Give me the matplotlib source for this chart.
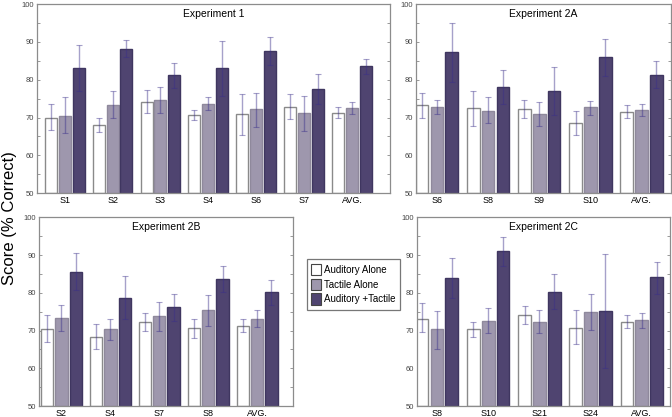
import numpy as np
import matplotlib
matplotlib.use('Agg')
import matplotlib.pyplot as plt
from matplotlib.patches import Patch

plt.rcParams['font.family'] = ['Liberation Sans', 'DejaVu Sans']

conditions = ['Auditory Alone', 'Tactile Alone', 'Auditory +Tactile']

# Experiment 1
exp1_labels = ['S1', 'S2', 'S3', 'S4', 'S6', 'S7', 'AVG.']
exp1_aud = [70.0, 67.9, 74.1, 70.7, 70.8, 72.9, 71.3]
exp1_aud_lo = [66.8, 66.1, 71.1, 69.4, 65.4, 69.5, 70.0]
exp1_aud_hi = [73.5, 69.8, 77.4, 72.0, 76.1, 76.1, 72.8]
exp1_tac = [70.3, 73.4, 74.6, 73.7, 72.2, 71.1, 72.4]
exp1_tac_lo = [65.8, 69.8, 71.1, 72.0, 67.6, 66.3, 70.9]
exp1_tac_hi = [75.5, 77.1, 78.1, 75.5, 76.6, 75.8, 74.0]
exp1_both = [83.1, 88.2, 81.2, 83.0, 87.6, 77.5, 83.6]
exp1_both_lo = [77.1, 85.9, 77.9, 75.6, 83.9, 73.6, 81.5]
exp1_both_hi = [89.2, 90.5, 84.3, 90.3, 91.3, 81.6, 85.4]

# Experiment 2A
exp2a_labels = ['S6', 'S8', 'S9', 'S10', 'AVG.']
exp2a_aud = [73.2, 72.4, 72.2, 68.6, 71.4]
exp2a_aud_lo = [69.9, 67.8, 69.9, 65.5, 69.9]
exp2a_aud_hi = [76.5, 77.1, 74.6, 71.6, 73.2]
exp2a_tac = [72.9, 71.6, 70.9, 72.7, 72.0]
exp2a_tac_lo = [71.0, 68.5, 67.7, 70.7, 70.5]
exp2a_tac_hi = [74.6, 75.3, 74.1, 74.3, 73.5]
exp2a_both = [87.4, 78.0, 77.1, 86.0, 81.3]
exp2a_both_lo = [79.3, 73.5, 70.7, 81.1, 77.7]
exp2a_both_hi = [95.1, 82.7, 83.5, 90.8, 85.0]

# Experiment 2B
exp2b_labels = ['S2', 'S4', 'S7', 'S8', 'AVG.']
exp2b_aud = [70.3, 68.4, 72.4, 70.6, 71.3]
exp2b_aud_lo = [67.0, 65.2, 69.8, 68.1, 69.5]
exp2b_aud_hi = [74.0, 71.7, 74.6, 73.1, 73.1]
exp2b_tac = [73.3, 70.3, 73.8, 75.4, 73.2]
exp2b_tac_lo = [70.0, 67.4, 70.0, 71.3, 71.0]
exp2b_tac_hi = [76.8, 73.2, 77.7, 79.3, 75.4]
exp2b_both = [85.6, 78.7, 76.2, 83.6, 80.2]
exp2b_both_lo = [80.7, 73.0, 72.6, 80.3, 76.8]
exp2b_both_hi = [90.6, 84.5, 79.8, 87.2, 83.5]

# Experiment 2C
exp2c_labels = ['S8', 'S10', 'S21', 'S24', 'AVG.']
exp2c_aud = [73.2, 70.3, 74.0, 70.8, 72.2]
exp2c_aud_lo = [69.5, 68.2, 71.8, 66.4, 70.8]
exp2c_aud_hi = [77.2, 72.4, 76.5, 75.4, 74.0]
exp2c_tac = [70.3, 72.5, 72.4, 74.9, 72.8]
exp2c_tac_lo = [65.0, 69.3, 69.3, 70.1, 70.8]
exp2c_tac_hi = [75.3, 75.9, 75.4, 79.7, 74.6]
exp2c_both = [84.0, 91.0, 80.3, 75.2, 84.1]
exp2c_both_lo = [78.6, 87.2, 75.6, 60.0, 79.7]
exp2c_both_hi = [89.3, 94.9, 85.1, 90.3, 88.2]

face_colors = ['white', '#9e97ad', '#4f4470']
edge_colors = ['#8a8a8a', '#8f899c', '#3f3660']
err_color = '#3a2f8a'


def draw_panel(ax, title, labels, series, xlim):
    x = np.arange(len(labels))
    width = 0.25
    offs = [-0.29, 0.0, 0.29]
    for k, (vals, lo, hi) in enumerate(series):
        vals = np.array(vals)
        yerr = [vals - np.array(lo), np.array(hi) - vals]
        ax.bar(x + offs[k], vals - 50, width, bottom=50, color=face_colors[k],
               edgecolor=edge_colors[k], linewidth=1.0, zorder=2)
        ax.errorbar(x + offs[k], vals, yerr=yerr, fmt='none', ecolor=err_color,
                    alpha=0.45, elinewidth=1.0, capsize=2, capthick=0.8, zorder=3)
    ax.set_ylim(50, 100)
    ax.set_xlim(*xlim)
    ax.set_xticks(x)
    ax.set_xticklabels(labels, fontsize=6.5)
    ax.set_yticks(np.arange(50, 101, 10))
    ax.set_yticks(np.arange(55, 100, 10), minor=True)
    ax.tick_params(axis='y', which='both', direction='in', right=True,
                   length=2, width=0.6, color='#888888', labelsize=5.5,
                   labelcolor='#444444', pad=2)
    ax.tick_params(axis='x', length=0, pad=2)
    for sp in ax.spines.values():
        sp.set_color('#8c8c8c')
        sp.set_linewidth(0.9)
    ax.text(0.5, 0.975, title, transform=ax.transAxes, ha='center', va='top',
            fontsize=7.5)


fig = plt.figure(figsize=(6.72, 4.17), dpi=100)

ax1 = fig.add_axes([0.055, 0.537, 0.525, 0.453])
draw_panel(ax1, 'Experiment 1', exp1_labels,
           [(exp1_aud, exp1_aud_lo, exp1_aud_hi),
            (exp1_tac, exp1_tac_lo, exp1_tac_hi),
            (exp1_both, exp1_both_lo, exp1_both_hi)], (-0.58, 6.79))

ax2 = fig.add_axes([0.619, 0.537, 0.379, 0.453])
draw_panel(ax2, 'Experiment 2A', exp2a_labels,
           [(exp2a_aud, exp2a_aud_lo, exp2a_aud_hi),
            (exp2a_tac, exp2a_tac_lo, exp2a_tac_hi),
            (exp2a_both, exp2a_both_lo, exp2a_both_hi)], (-0.41, 4.57))

ax3 = fig.add_axes([0.058, 0.026, 0.378, 0.453])
draw_panel(ax3, 'Experiment 2B', exp2b_labels,
           [(exp2b_aud, exp2b_aud_lo, exp2b_aud_hi),
            (exp2b_tac, exp2b_tac_lo, exp2b_tac_hi),
            (exp2b_both, exp2b_both_lo, exp2b_both_hi)], (-0.46, 4.73))

ax4 = fig.add_axes([0.6205, 0.026, 0.3765, 0.453])
draw_panel(ax4, 'Experiment 2C', exp2c_labels,
           [(exp2c_aud, exp2c_aud_lo, exp2c_aud_hi),
            (exp2c_tac, exp2c_tac_lo, exp2c_tac_hi),
            (exp2c_both, exp2c_both_lo, exp2c_both_hi)], (-0.39, 4.55))

fig.text(0.014, 0.477, 'Score (% Correct)', rotation=90, ha='center',
         va='center', fontsize=12)

handles = [Patch(facecolor=face_colors[i], edgecolor='#444444', linewidth=0.8)
           for i in range(3)]
leg = fig.legend(handles, conditions, loc='center',
                 bbox_to_anchor=(0.526, 0.318), fontsize=7,
                 frameon=True, fancybox=False, edgecolor='#555555',
                 handlelength=1.0, handleheight=1.4, handletextpad=0.3,
                 labelspacing=0.35, borderpad=0.5)
leg.get_frame().set_linewidth(0.9)

fig.savefig('out.png', dpi=100)
